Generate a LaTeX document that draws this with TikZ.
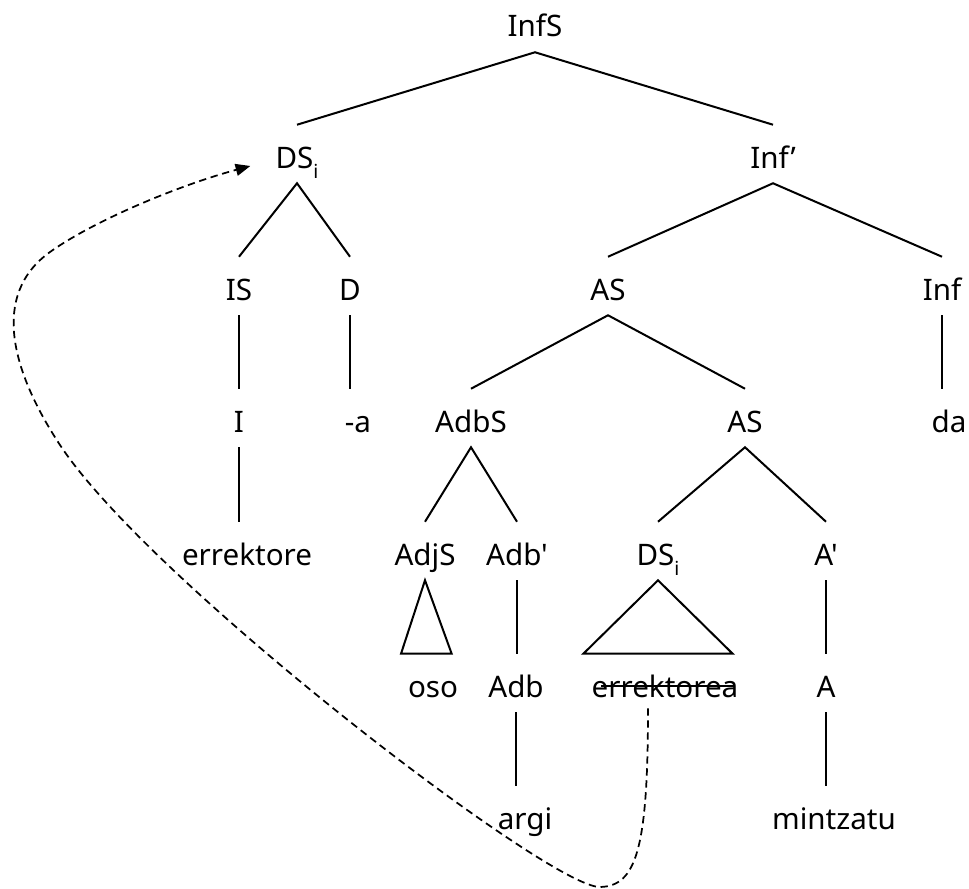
\documentclass[tikz,border=0pt]{standalone}
\usepackage{fontspec}
\newfontfamily\treefont{Noto Sans}
\usetikzlibrary{arrows.meta}

\begin{document}
\begin{tikzpicture}[x=0.75pt,y=-0.75pt,
  every node/.style={font=\treefont\fontsize{22.2}{26}\selectfont, anchor=base,
    inner sep=0pt, text height=32.25pt, text depth=11.25pt},
  branch/.style={line width=1.5pt},
  trace/.style={line width=1.3pt, dash pattern=on 5.5pt off 3.5pt,
    -{Triangle[length=11pt,width=9pt]}}]
\def\sub#1{\raisebox{-8pt}{\fontsize{14.5}{14.5}\selectfont #1}}
\useasboundingbox (0,0) rectangle (969,888);

% labels, one row per level
\node (infs) at (535,37) {InfS};

\node (ds1) at (297,168) {DS\sub{i}};
\node (infbar) at (773,168) {Inf’};

\node (is) at (239,300) {IS};
\node (d) at (350,300) {D};
\node (as1) at (608,300) {AS};
\node (inf) at (942,300) {Inf};

\node (i) at (239,432) {I};
\node (a) at (358,432) {-a};
\node (adbs) at (471,432) {AdbS};
\node (as2) at (745,432) {AS};
\node (da) at (949,432) {da};

\node (errektore) at (247,565) {errektore};
\node (adjs) at (425,565) {AdjS};
\node (adbbar) at (517,565) {Adb'};
\node (ds2) at (658,565) {DS\sub{i}};
\node (abar) at (826,565) {A'};

\node (oso) at (433,697) {oso};
\node (adb) at (516,697) {Adb};
\node (err) at (665,697) {errektorea};
\node (a2) at (826,697) {A};

\node (argi) at (525,829) {argi};
\node (mintzatu) at (834,829) {mintzatu};

% branches
\draw[branch] (ds1.north) -- (infs.south) -- (infbar.north);
\draw[branch] (is.north) -- (ds1.south) -- (d.north);
\draw[branch] (as1.north) -- (infbar.south) -- (inf.north);
\draw[branch] (adbs.north) -- (as1.south) -- (as2.north);
\draw[branch] (adjs.north) -- (adbs.south) -- (adbbar.north);
\draw[branch] (ds2.north) -- (as2.south) -- (abar.north);

\draw[branch] (is.south) -- (i.north);
\draw[branch] (d.south) -- (d.south |- a.north);
\draw[branch] (inf.south) -- (inf.south |- da.north);
\draw[branch] (i.south) -- (i.south |- errektore.north);
\draw[branch] (adbbar.south) -- (adbbar.south |- adb.north);
\draw[branch] (abar.south) -- (a2.north);
\draw[branch] (adb.south) -- (adb.south |- argi.north);
\draw[branch] (a2.south) -- (a2.south |- mintzatu.north);

% roofs
\draw[branch] (adjs.south) -- ([xshift=-18pt]adjs.south |- oso.north)
  -- ([xshift=20pt]adjs.south |- oso.north) -- cycle;
\draw[branch] (ds2.south) -- ([xshift=-56pt]ds2.south |- err.north)
  -- ([xshift=56pt]ds2.south |- err.north) -- cycle;

% struck-out trace
\draw[line width=1.5pt] ([xshift=7.5pt,yshift=8.25pt]err.base west)
  -- ([xshift=-2.5pt,yshift=8.25pt]err.base east);

% movement
\coordinate (tracestart) at ([xshift=-12.75pt,yshift=3pt]err.south);
\coordinate (traceend) at ([xshift=-18.75pt,yshift=-9pt]ds1.west);
\draw[trace] (tracestart) .. controls (648,850) and (636,886) .. (600,887)
  .. controls (550,888) and (150,582) .. (60,445)
  .. controls (12,372) and (-10,295) .. (50,252)
  .. controls (95,220) and (180,185) .. (traceend);
\end{tikzpicture}
\end{document}
